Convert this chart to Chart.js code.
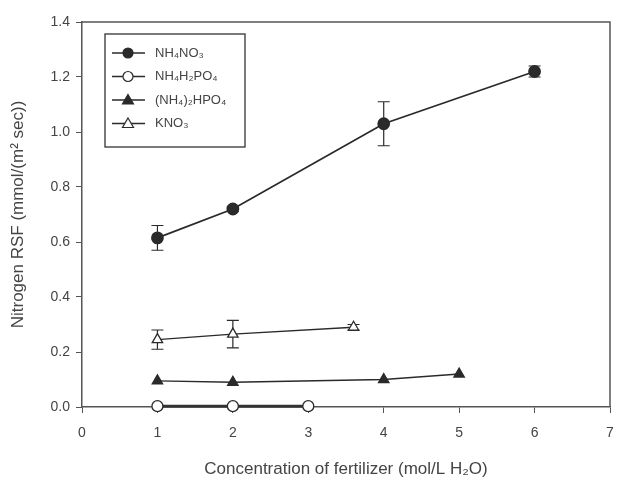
<!DOCTYPE html>
<html>
<head>
<meta charset="utf-8">
<script src="https://cdn.jsdelivr.net/npm/chart.js@4.4.0/dist/chart.umd.min.js"></script>
<style>
  html, body { margin: 0; padding: 0; background: #fff; }
  #wrap { width: 623px; height: 484px; }
</style>
</head>
<body>
<div id="wrap"><canvas id="rsfChart"></canvas></div>
<script>
// values
const xTicks = [0, 1, 2, 3, 4, 5, 6, 7];
const yTicks = [0.0, 0.2, 0.4, 0.6, 0.8, 1.0, 1.2, 1.4];

const nh4no3X = [1, 2, 4, 6];
const nh4no3Y = [0.615, 0.72, 1.03, 1.22];
const nh4no3Err = [0.045, 0.01, 0.08, 0.02];

const nh4h2po4X = [1, 2, 3];
const nh4h2po4Y = [0.003, 0.003, 0.003];

const nh42hpo4X = [1, 2, 4, 5];
const nh42hpo4Y = [0.095, 0.09, 0.10, 0.12];

const kno3X = [1, 2, 3.6];
const kno3Y = [0.245, 0.265, 0.29];
const kno3Err = [0.035, 0.05, 0.01];

const labels = ['NH\u2084NO\u2083', 'NH\u2084H\u2082PO\u2084', '(NH\u2084)\u2082HPO\u2084', 'KNO\u2083'];

const ink = '#2a2a2a';
const axisGray = '#555';
const textGray = '#444';
const fontFam = '"Liberation Sans", Arial, sans-serif';

function toPoints(xs, ys) {
    return xs.map((x, i) => ({ x: x, y: ys[i] }));
}

// error bars + frame + legend drawn through the chart scales
const extras = {
    id: 'extras',
    beforeDatasetsDraw(chart) {
        const ctx = chart.ctx;
        const xs = chart.scales.x, ys = chart.scales.y;
        ctx.save();
        ctx.strokeStyle = ink;
        ctx.lineWidth = 1.2;
        chart.data.datasets.forEach(ds => {
            if (!ds.err) return;
            ds.data.forEach((p, i) => {
                const e = ds.err[i];
                if (!e) return;
                const px = xs.getPixelForValue(p.x);
                const top = ys.getPixelForValue(p.y + e);
                const bot = ys.getPixelForValue(p.y - e);
                ctx.beginPath();
                ctx.moveTo(px, top); ctx.lineTo(px, bot);
                ctx.moveTo(px - 6, top); ctx.lineTo(px + 6, top);
                ctx.moveTo(px - 6, bot); ctx.lineTo(px + 6, bot);
                ctx.stroke();
            });
        });
        ctx.restore();
    },
    afterDatasetsDraw(chart) {
        const ctx = chart.ctx;
        const area = chart.chartArea;
        ctx.save();
        // top and right frame
        ctx.strokeStyle = axisGray;
        ctx.lineWidth = 1.5;
        ctx.beginPath();
        ctx.moveTo(area.left, area.top);
        ctx.lineTo(area.right, area.top);
        ctx.lineTo(area.right, area.bottom);
        ctx.stroke();

        // legend box
        const lx = 105, ly = 34, lw = 140, lh = 113;
        ctx.strokeStyle = '#333';
        ctx.lineWidth = 1.3;
        ctx.strokeRect(lx, ly, lw, lh);
        ctx.font = '13px ' + fontFam;
        ctx.textBaseline = 'middle';
        chart.data.datasets.forEach((ds, i) => {
            const cy = ly + 19 + i * 23.5;
            ctx.strokeStyle = ink;
            ctx.lineWidth = 1.5;
            ctx.beginPath();
            ctx.moveTo(lx + 7, cy); ctx.lineTo(lx + 40, cy);
            ctx.stroke();
            ctx.fillStyle = ds.pointBackgroundColor;
            ctx.strokeStyle = ink;
            ctx.lineWidth = 1.2;
            const mx = lx + 23;
            ctx.beginPath();
            if (ds.pointStyle === 'circle') {
                ctx.arc(mx, cy, 5, 0, Math.PI * 2);
            } else {
                ctx.moveTo(mx, cy - 5.5);
                ctx.lineTo(mx + 5.5, cy + 4);
                ctx.lineTo(mx - 5.5, cy + 4);
                ctx.closePath();
            }
            ctx.fill();
            ctx.stroke();
            ctx.fillStyle = textGray;
            ctx.fillText(ds.label, lx + 50, cy);
        });
        ctx.restore();
    }
};

new Chart(document.getElementById('rsfChart'), {
    type: 'scatter',
    data: {
        datasets: [
            {
                label: labels[0],
                data: toPoints(nh4no3X, nh4no3Y),
                err: nh4no3Err,
                showLine: true,
                borderColor: ink,
                borderWidth: 1.8,
                pointStyle: 'circle',
                pointRadius: 5.5,
                pointBackgroundColor: ink,
                pointBorderColor: ink
            },
            {
                label: labels[1],
                data: toPoints(nh4h2po4X, nh4h2po4Y),
                showLine: true,
                borderColor: '#333',
                borderWidth: 3,
                pointStyle: 'circle',
                pointRadius: 5.5,
                pointBackgroundColor: '#fff',
                pointBorderColor: ink,
                pointBorderWidth: 1.3
            },
            {
                label: labels[2],
                data: toPoints(nh42hpo4X, nh42hpo4Y),
                showLine: true,
                borderColor: ink,
                borderWidth: 1.3,
                pointStyle: 'triangle',
                pointRadius: 6,
                pointBackgroundColor: ink,
                pointBorderColor: ink
            },
            {
                label: labels[3],
                data: toPoints(kno3X, kno3Y),
                err: kno3Err,
                showLine: true,
                borderColor: ink,
                borderWidth: 1.3,
                pointStyle: 'triangle',
                pointRadius: 6,
                pointBackgroundColor: '#fff',
                pointBorderColor: ink,
                pointBorderWidth: 1.3
            }
        ]
    },
    options: {
        responsive: true,
        maintainAspectRatio: false,
        animation: false,
        clip: false,
        layout: { padding: { top: 22, right: 13, left: 0, bottom: 0 } },
        plugins: {
            legend: { display: false },
            tooltip: { enabled: false }
        },
        scales: {
            x: {
                type: 'linear',
                min: xTicks[0],
                max: xTicks[xTicks.length - 1],
                afterBuildTicks: axis => { axis.ticks = xTicks.map(v => ({ value: v })); },
                afterFit: axis => { axis.height = 77; axis.paddingRight = 0; },
                border: { color: axisGray, width: 1.5 },
                grid: { drawOnChartArea: false, tickLength: 6, tickColor: axisGray },
                ticks: {
                    color: textGray,
                    padding: 12,
                    font: { family: fontFam, size: 14 }
                },
                title: {
                    display: true,
                    text: 'Concentration of fertilizer (mol/L H\u2082O)',
                    color: textGray,
                    padding: { top: 14 },
                    font: { family: fontFam, size: 17 }
                }
            },
            y: {
                type: 'linear',
                min: yTicks[0],
                max: yTicks[yTicks.length - 1],
                afterBuildTicks: axis => { axis.ticks = yTicks.map(v => ({ value: v })); },
                afterFit: axis => { axis.width = 82; },
                border: { color: axisGray, width: 1.5 },
                grid: { drawOnChartArea: false, tickLength: 6, tickColor: axisGray },
                ticks: {
                    color: textGray,
                    padding: 6,
                    callback: v => v.toFixed(1),
                    font: { family: fontFam, size: 14 }
                },
                title: {
                    display: true,
                    text: 'Nitrogen RSF (mmol/(m\u00B2 sec))',
                    color: textGray,
                    padding: { top: 8, bottom: 0 },
                    font: { family: fontFam, size: 17 }
                }
            }
        }
    },
    plugins: [extras]
});
</script>
</body>
</html>
